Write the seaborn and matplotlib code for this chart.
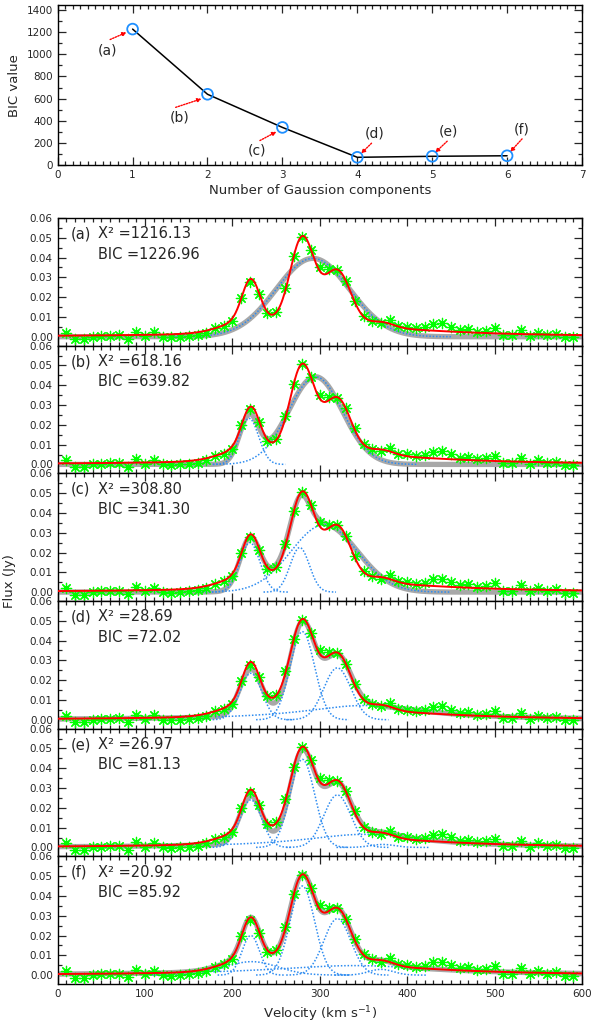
import numpy as np
import pandas as pd
import matplotlib
matplotlib.use("Agg")
import matplotlib.pyplot as plt
import seaborn as sns
from matplotlib.ticker import MultipleLocator, FormatStrFormatter

sns.set_style("ticks")
plt.rcParams['font.family'] = ['DejaVu Sans']

# ---------------- data: BIC panel ----------------
n_components = [1, 2, 3, 4, 5, 6]
bic_values = [1226.96, 639.82, 341.30, 72.02, 81.13, 85.92]
chi2_values = [1216.13, 618.16, 308.80, 28.69, 26.97, 20.92]
panel_tags = ["a", "b", "c", "d", "e", "f"]

# ---------------- data: observed spectrum ----------------
velocity = list(range(10, 600, 10))
flux = [0.0020, -0.0013, -0.0013, 0.0000, 0.0004, 0.0005, 0.0007, -0.0012, 0.0025, 0.0004,
        0.0022, 0.0000, -0.0003, 0.0000, 0.0004, 0.0009, 0.0020, 0.0042, 0.0054, 0.0079,
        0.0197, 0.0278, 0.0214, 0.0118, 0.0126, 0.0244, 0.0408, 0.0505, 0.0440, 0.0352,
        0.0340, 0.0337, 0.0283, 0.0182, 0.0105, 0.0079, 0.0067, 0.0084, 0.0054, 0.0051,
        0.0042, 0.0047, 0.0064, 0.0067, 0.0051, 0.0034, 0.0040, 0.0025, 0.0030, 0.0045,
        0.0007, 0.0007, 0.0034, 0.0004, 0.0020, 0.0007, 0.0014, -0.0003, -0.0003]

# ---------------- data: fitted components per panel ----------------
# kind: g = Gaussian (width = sigma), l = Lorentzian (width = HWHM)
comp_kind = {
    "a": ["g"],
    "b": ["g", "g"],
    "c": ["g", "g", "g"],
    "d": ["g", "g", "g", "l"],
    "e": ["g", "g", "g", "l", "g"],
    "f": ["g", "g", "g", "g", "g", "l"],
}
comp_amp = {
    "a": [0.0396],
    "b": [0.0233, 0.0443],
    "c": [0.0250, 0.0225, 0.0340],
    "d": [0.0235, 0.0445, 0.0262, 0.0072],
    "e": [0.0240, 0.0445, 0.0265, 0.0066, 0.0015],
    "f": [0.0200, 0.0068, 0.0450, 0.0285, 0.0029, 0.0048],
}
comp_cen = {
    "a": [292],
    "b": [219, 295],
    "c": [220, 277, 305],
    "d": [221, 280, 320, 350],
    "e": [221, 280, 320, 350, 372],
    "f": [221, 222, 280, 320, 370, 340],
}
comp_wid = {
    "a": [42],
    "b": [11, 31],
    "c": [11.5, 11, 38],
    "d": [12.5, 14, 15.5, 86],
    "e": [12.5, 14, 15.5, 86, 14],
    "f": [10, 30, 14, 15.5, 14, 120],
}
broad_window = {"d": (180, 368), "e": (182, 372), "f": (178, 400)}
best_fit_panel = "f"

v_grid = np.linspace(0, 600, 1201)


def profile(kind, a, c, w, v):
    if kind == "g":
        return a * np.exp(-0.5 * ((v - c) / w) ** 2)
    return a / (1.0 + ((v - c) / w) ** 2)


def model(tag, v):
    tot = np.zeros_like(v)
    for k, a, c, w in zip(comp_kind[tag], comp_amp[tag], comp_cen[tag], comp_wid[tag]):
        tot += profile(k, a, c, w, v)
    return tot


red_fit = model(best_fit_panel, v_grid)
obs = pd.DataFrame({"v": velocity, "flux": flux})

# ---------------- figure ----------------
W, H = 592, 1028
fig = plt.figure(figsize=(W / 100, H / 100), dpi=100)


def box(x0, y0, x1, y1):
    return [x0 / W, 1 - y1 / H, (x1 - x0) / W, (y1 - y0) / H]


TICK = 7.5
blue_c = "#2e8cf0"

# ---- top BIC panel ----
ax0 = fig.add_axes(box(57.7, 5, 582, 165.3))
sns.lineplot(x=n_components, y=bic_values, color="black", lw=1.1, ax=ax0)
sns.scatterplot(x=n_components, y=bic_values, marker="o", s=60, facecolor="none",
                edgecolor="#1e8fff", linewidth=1.3, ax=ax0, zorder=5)
ax0.set_xlim(0, 7)
ax0.set_ylim(0, 1444)
ax0.xaxis.set_major_locator(MultipleLocator(1))
ax0.xaxis.set_minor_locator(MultipleLocator(0.1))
ax0.yaxis.set_major_locator(MultipleLocator(200))
ax0.yaxis.set_minor_locator(MultipleLocator(100))
ax0.set_xlabel("Number of Gaussion components", fontsize=9.5, labelpad=3)
ax0.set_ylabel("BIC value", fontsize=9.5, labelpad=4)

ann_layout = {  # label (x,y), arrow tail (x,y), arrow tip (x,y)
    "a": ((0.67, 1033), (0.70, 1133), (0.92, 1198)),
    "b": ((1.63, 428), (1.575, 522), (1.92, 599)),
    "c": ((2.66, 129), (2.70, 223), (2.92, 302)),
    "d": ((4.23, 282), (4.19, 199), (4.05, 106)),
    "e": ((5.22, 305), (5.20, 217), (5.04, 115)),
    "f": ((6.20, 320), (6.20, 238), (6.04, 120)),
}
for tag in panel_tags:
    (lx, ly), tail, tip = ann_layout[tag]
    ax0.text(lx, ly, f"({tag})", fontsize=10, ha="center", va="center")
    ax0.annotate("", xy=tip, xytext=tail,
                 arrowprops=dict(arrowstyle="-|>", color="red", lw=1.0, ls=(0, (1, 1)),
                                 mutation_scale=6, shrinkA=0, shrinkB=0))

# ---- spectral panels ----
top, bottom = 218.0, 984.0
ph = (bottom - top) / 6
axes = []
for i, tag in enumerate(panel_tags):
    y0 = top + i * ph
    ax = fig.add_axes(box(57.7, y0, 582, y0 + ph))
    axes.append(ax)
    tot = model(tag, v_grid)
    sns.lineplot(x=v_grid, y=tot, color="#a8a8a8", lw=3.8, ax=ax, zorder=1)
    for k, a, c, w in zip(comp_kind[tag], comp_amp[tag], comp_cen[tag], comp_wid[tag]):
        if k == "g":
            lo, hi = max(0, c - 3.8 * w), min(600, c + 3.8 * w)
        else:
            lo, hi = broad_window[tag]
        vv = v_grid[(v_grid >= lo) & (v_grid <= hi)]
        sns.lineplot(x=vv, y=profile(k, a, c, w, vv), color=blue_c, lw=1.1,
                     ls=(0, (1, 1.2)), ax=ax, zorder=2)
    sns.scatterplot(data=obs, x="v", y="flux", marker=(8, 2, 0), s=55, color="#00ff00",
                    edgecolor="#00ff00", linewidth=0.9, ax=ax, zorder=3)
    sns.lineplot(x=v_grid, y=red_fit, color="red", lw=1.4, ax=ax, zorder=4)
    ax.set_xlim(0, 600)
    ax.set_ylim(-0.0045, 0.06)
    ax.xaxis.set_major_locator(MultipleLocator(100))
    ax.xaxis.set_minor_locator(MultipleLocator(10))
    ax.yaxis.set_major_locator(MultipleLocator(0.01))
    ax.yaxis.set_minor_locator(MultipleLocator(0.005))
    ax.yaxis.set_major_formatter(FormatStrFormatter("%.2f"))
    ax.set_xlabel("")
    ax.set_ylabel("")
    if i < 5:
        ax.tick_params(labelbottom=False)
    ax.text(0.025, 0.875, f"({tag})", transform=ax.transAxes, fontsize=10.5,
            ha="left", va="center")
    ax.text(0.077, 0.875, f"X\u00b2 ={chi2_values[i]:.2f}", transform=ax.transAxes,
            fontsize=10.5, ha="left", va="center")
    ax.text(0.077, 0.718, f"BIC ={bic_values[i]:.2f}", transform=ax.transAxes,
            fontsize=10.5, ha="left", va="center")

axes[-1].set_xlabel("Velocity (km s$^{-1}$)", fontsize=9.5, labelpad=4)
fig.text(10 / W, 1 - 581 / H, "Flux (Jy)", rotation=90, fontsize=9.5,
         ha="center", va="center")

for ax in [ax0] + axes:
    ax.tick_params(which="both", direction="in", top=True, right=True,
                   labelsize=TICK, width=0.9)
    ax.tick_params(which="major", length=6)
    ax.tick_params(which="minor", length=3)
    for s in ax.spines.values():
        s.set_linewidth(1.0)
        s.set_color("black")

fig.savefig("out.png", dpi=100)
